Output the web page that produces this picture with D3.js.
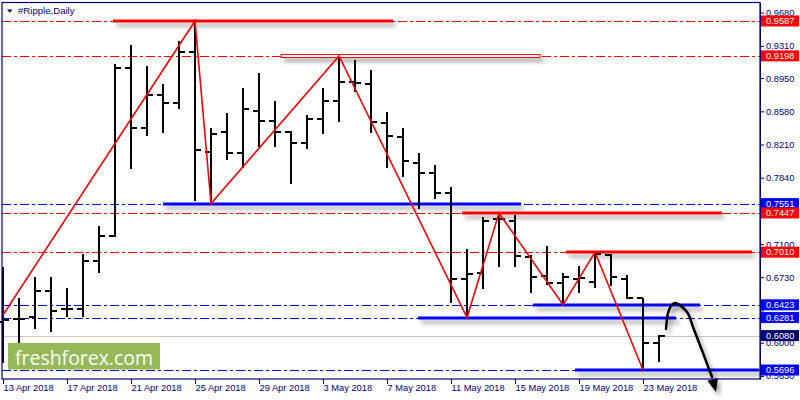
<!DOCTYPE html>
<html><head><meta charset="utf-8">
<script src="https://cdn.jsdelivr.net/npm/d3@7"></script>
<style>body{margin:0;background:#fff}svg{display:block}</style>
</head><body>
<svg id="c" width="800" height="400"></svg>
<script>
// ---------- data ----------
const dates = ["2018-04-13","2018-04-14","2018-04-15","2018-04-16","2018-04-17","2018-04-18","2018-04-19","2018-04-20","2018-04-21","2018-04-22","2018-04-23","2018-04-24","2018-04-25","2018-04-26","2018-04-27","2018-04-28","2018-04-29","2018-04-30","2018-05-01","2018-05-02","2018-05-03","2018-05-04","2018-05-05","2018-05-06","2018-05-07","2018-05-08","2018-05-09","2018-05-10","2018-05-11","2018-05-12","2018-05-13","2018-05-14","2018-05-15","2018-05-16","2018-05-17","2018-05-18","2018-05-19","2018-05-20","2018-05-21","2018-05-22","2018-05-23","2018-05-24"];
const opens  = [0.6231,0.6265,0.6287,0.6577,0.6376,0.6376,0.6912,0.7190,0.9063,0.8394,0.8762,0.8673,0.9241,0.8127,0.8350,0.8115,0.8584,0.8472,0.8350,0.8227,0.8495,0.8695,0.8907,0.8885,0.8450,0.8294,0.8004,0.7893,0.7670,0.6711,0.6778,0.7380,0.7357,0.6956,0.6744,0.6666,0.6711,0.6677,0.6978,0.6711,0.6499,0.5997];
const highs  = [0.6848,0.6499,0.6733,0.6733,0.6611,0.6990,0.7302,0.9108,0.9319,0.9085,0.8885,0.9364,0.9587,0.8394,0.8561,0.8840,0.9007,0.8695,0.8355,0.8539,0.8840,0.9198,0.9152,0.9041,0.8573,0.8394,0.8115,0.7982,0.7736,0.7045,0.7402,0.7447,0.7424,0.6978,0.7079,0.6778,0.6856,0.7010,0.6990,0.6755,0.6499,0.6085];
const lows   = [0.5774,0.5997,0.6153,0.6120,0.6287,0.6287,0.6778,0.7179,0.7937,0.8305,0.8338,0.8606,0.7580,0.7551,0.8037,0.7948,0.8182,0.8182,0.7770,0.8160,0.8327,0.8461,0.8796,0.8338,0.7948,0.7848,0.7491,0.7603,0.6443,0.6281,0.6599,0.6845,0.6845,0.6555,0.6644,0.6423,0.6555,0.6611,0.6633,0.6488,0.5696,0.5785];
const closes = [0.6254,0.6270,0.6577,0.6354,0.6376,0.6912,0.7190,0.9063,0.8394,0.8762,0.8673,0.9241,0.8149,0.8327,0.8115,0.8606,0.8472,0.8350,0.8227,0.8495,0.8695,0.8907,0.8900,0.8461,0.8305,0.8026,0.7893,0.7670,0.6711,0.6767,0.7357,0.7380,0.6967,0.6733,0.6666,0.6733,0.6722,0.6990,0.6733,0.6499,0.5997,0.6080];

const xTickDates = ["2018-04-13","2018-04-17","2018-04-21","2018-04-25","2018-04-29","2018-05-03","2018-05-07","2018-05-11","2018-05-15","2018-05-19","2018-05-23"];
const yTickValues = [0.9680,0.9310,0.8950,0.8580,0.8210,0.7840,0.7470,0.7100,0.6730,0.6360,0.6000,0.5630];
const yTickHidden = [0.7470,0.6360]; // labels covered by the price boxes in the reference

const levelValues = [0.9587,0.9198,0.7551,0.7447,0.7010,0.6423,0.6281,0.5696];
const levelKinds  = ["res","res-outline","sup","res","res","sup","sup","sup"];
const levelFrom   = ["2018-04-19T21:00Z","2018-04-30T09:00Z","2018-04-23T00:00Z","2018-05-11T16:30Z","2018-05-18T04:30Z","2018-05-16T03:00Z","2018-05-08T22:30Z","2018-05-18T18:00Z"];
const levelTo     = ["2018-05-07T09:00Z","2018-05-16T13:30Z","2018-05-15T09:00Z","2018-05-27T22:30Z","2018-05-29T19:30Z","2018-05-26T13:30Z","2018-05-25T01:30Z","2018-05-31T00:00Z"];
const currentPrice = 0.6080;

const zigzagDates  = ["2018-04-13","2018-04-25","2018-04-26","2018-05-04","2018-05-12","2018-05-14","2018-05-18","2018-05-20","2018-05-23"];
const zigzagValues = [0.6310,0.9587,0.7551,0.9198,0.6281,0.7447,0.6423,0.7010,0.5696];

const arrowDates  = ["2018-05-24T10:30Z","2018-05-24T13:30Z","2018-05-24T18:00Z","2018-05-25T00:00Z","2018-05-25T18:00Z","2018-05-26T03:00Z","2018-05-26T18:00Z","2018-05-27T07:30Z"];
const arrowValues = [0.6153,0.6332,0.6410,0.6443,0.6343,0.6176,0.5886,0.5618];
const arrowTip = {date:"2018-05-27T13:30Z", value:0.5451};

// ---------- setup ----------
const P = {l:2, r:760, t:2.5, b:379};
const NAVY = "#000080", RED = "#ff0000", BLUE = "#0000ff";
const FONT = "'Liberation Sans', Arial, sans-serif";
const pd = s => new Date(s.length === 10 ? s + "T00:00Z" : s);

const svg = d3.select("#c");
const defs = svg.append("defs");
const f = defs.append("filter").attr("id","sh").attr("filterUnits","userSpaceOnUse")
  .attr("x",0).attr("y",0).attr("width",800).attr("height",400);
f.append("feDropShadow").attr("dx",3).attr("dy",4).attr("stdDeviation",2)
  .attr("flood-color","#000").attr("flood-opacity",0.35);

const x = d3.scaleUtc().domain([pd(dates[0]), pd(dates[dates.length-1])]).range([3, 659]);
const y = d3.scaleLinear().domain([0.5596, 0.9793]).range([P.b, P.t]);
const clampX = v => Math.max(P.l, Math.min(P.r - 1, v));

svg.append("rect").attr("width",800).attr("height",400).attr("fill","#fff");

// dash-dot full-width level lines
const lv = levelValues.map((v,i)=>({v, kind:levelKinds[i], from:pd(levelFrom[i]), to:pd(levelTo[i])}));
svg.append("g").selectAll("line").data(lv).join("line")
  .attr("x1",P.l).attr("x2",P.r)
  .attr("y1",d=>Math.round(y(d.v))+0.5).attr("y2",d=>Math.round(y(d.v))+0.5)
  .attr("stroke",d=>d.kind==="sup"?BLUE:RED).attr("stroke-width",1)
  .attr("stroke-dasharray","9,3,3,3");

// current price line
svg.append("line").attr("x1",P.l).attr("x2",P.r)
  .attr("y1",Math.round(y(currentPrice))+0.5).attr("y2",Math.round(y(currentPrice))+0.5)
  .attr("stroke","#c8c8c8").attr("stroke-width",1);

// solid level segments
const seg = svg.append("g");
lv.forEach(d=>{
  const x1 = clampX(x(d.from)), x2 = clampX(x(d.to)), yy = Math.round(y(d.v));
  if (d.kind === "res-outline") {
    seg.append("rect").attr("x",x1).attr("y",yy-1.5).attr("width",x2-x1).attr("height",3)
      .attr("fill","#fff").attr("stroke",RED).attr("stroke-width",1).attr("filter","url(#sh)");
  } else {
    seg.append("line").attr("x1",x1).attr("x2",x2).attr("y1",yy).attr("y2",yy)
      .attr("stroke",d.kind==="sup"?BLUE:RED).attr("stroke-width",3).attr("filter","url(#sh)");
  }
});

// OHLC bars
const bars = dates.map((d,i)=>({d:pd(d), o:opens[i], h:highs[i], l:lows[i], c:closes[i]}));
const bg = svg.append("g").attr("stroke","#000").attr("stroke-width",2);
bars.forEach(b=>{
  const px = Math.round(x(b.d));
  bg.append("line").attr("x1",px).attr("x2",px).attr("y1",Math.round(y(b.h))).attr("y2",Math.round(y(b.l)));
  const yo = Math.round(y(b.o)), yc = Math.round(y(b.c));
  bg.append("line").attr("x1",px-6).attr("x2",px).attr("y1",yo).attr("y2",yo);
  bg.append("line").attr("x1",px).attr("x2",px+6).attr("y1",yc).attr("y2",yc);
});

// zigzag
const zz = zigzagDates.map((d,i)=>[x(pd(d)), y(zigzagValues[i])]);
svg.append("path").attr("d",d3.line()(zz)).attr("fill","none")
  .attr("stroke",RED).attr("stroke-width",1.6);

// forecast arrow
const ap = arrowDates.map((d,i)=>[x(pd(d)), y(arrowValues[i])]);
const tip = [x(pd(arrowTip.date)), y(arrowTip.value)];
const ag = svg.append("g").attr("filter","url(#sh)");
ag.append("path").attr("d",d3.line().curve(d3.curveCatmullRom)(ap)).attr("fill","none")
  .attr("stroke","#000").attr("stroke-width",2.5).attr("stroke-linecap","round");
{
  const last = ap[ap.length-1];
  const dx = tip[0]-last[0], dy = tip[1]-last[1], L = Math.hypot(dx,dy);
  const ux = dx/L, uy = dy/L;
  const bx = tip[0]-ux*13, by = tip[1]-uy*13;
  ag.append("path").attr("d",`M${tip[0]},${tip[1]}L${bx-uy*5.5},${by+ux*5.5}L${bx+uy*5.5},${by-ux*5.5}Z`)
    .attr("fill","#000");
}

// logo
svg.append("rect").attr("x",8).attr("y",343).attr("width",152).attr("height",26.5).attr("fill","#94b957");
svg.append("text").attr("x",15).attr("y",364.5).attr("fill","#fff")
  .attr("font-family","'Open Sans', sans-serif").attr("font-size",19.5)
  .attr("textLength",138).attr("lengthAdjust","spacingAndGlyphs").text("freshforex.com");

// frame
svg.append("rect").attr("x",P.l).attr("y",P.t).attr("width",P.r-P.l).attr("height",P.b-P.t)
  .attr("fill","none").attr("stroke",NAVY).attr("stroke-width",1.2);

// title
svg.append("path").attr("d","M7,9.5L12.5,9.5L9.75,12.8Z").attr("fill",NAVY);
svg.append("text").attr("x",18).attr("y",13.5).attr("fill",NAVY)
  .attr("font-family",FONT).attr("font-size",9.6).text("#Ripple,Daily");

// bottom axis
const xa = svg.append("g").attr("transform",`translate(0,${P.b})`)
  .call(d3.axisBottom(x).tickValues(xTickDates.map(pd)).tickFormat(d3.utcFormat("%-d %b %Y")).tickSize(5).tickSizeOuter(0));
xa.select(".domain").remove();
xa.selectAll(".tick line").attr("stroke",NAVY);
xa.selectAll(".tick text").attr("text-anchor","start").attr("x",0).attr("y",5)
  .attr("fill",NAVY).attr("font-family",FONT).attr("font-size",9.3);

// right axis
const ya = svg.append("g").attr("transform",`translate(${P.r},0)`)
  .call(d3.axisRight(y).tickValues(yTickValues)
    .tickFormat(v => yTickHidden.includes(v) ? "" : d3.format(".4f")(v))
    .tickSize(4).tickSizeOuter(0));
ya.select(".domain").attr("stroke",NAVY);
ya.selectAll(".tick line").attr("stroke",NAVY);
ya.selectAll(".tick text").attr("x",6).attr("fill",NAVY).attr("font-family",FONT).attr("font-size",9.3);

// price label boxes
const boxes = lv.map(d=>({v:d.v, fill:d.kind==="sup"?BLUE:RED})).concat([{v:currentPrice, fill:"#00006e"}]);
const bx = svg.append("g");
boxes.forEach(b=>{
  const yy = y(b.v);
  bx.append("rect").attr("x",761).attr("y",yy-5.5).attr("width",38).attr("height",11).attr("fill",b.fill);
  bx.append("text").attr("x",766).attr("y",yy).attr("dy","0.34em").attr("fill","#fff")
    .attr("font-family",FONT).attr("font-size",9.3).text(d3.format(".4f")(b.v));
});
</script>
</body></html>
